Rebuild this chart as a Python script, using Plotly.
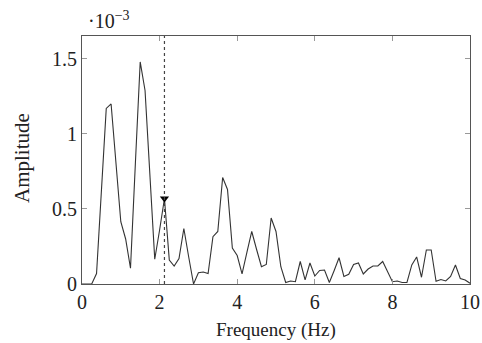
import plotly.graph_objects as go

# Frequency axis (Hz), spacing 0.125 Hz
freq = [i * 0.125 for i in range(81)]
# Amplitude values in units of 1e-3
amplitude = [
    0.0, 0.0, 0.0, 0.07, 0.62, 1.17, 1.20, 0.80, 0.415, 0.30,
    0.105, 0.80, 1.48, 1.29, 0.73, 0.165, 0.36, 0.57, 0.16, 0.12,
    0.17, 0.37, 0.18, 0.0, 0.075, 0.08, 0.07, 0.315, 0.35, 0.71,
    0.63, 0.24, 0.19, 0.067, 0.21, 0.35, 0.23, 0.115, 0.13, 0.44,
    0.35, 0.115, 0.01, 0.02, 0.015, 0.15, 0.027, 0.14, 0.053, 0.09,
    0.093, 0.01, 0.09, 0.175, 0.05, 0.065, 0.13, 0.14, 0.067, 0.10,
    0.12, 0.12, 0.15, 0.08, 0.015, 0.02, 0.01, 0.01, 0.127, 0.18,
    0.045, 0.227, 0.227, 0.018, 0.03, 0.02, 0.05, 0.127, 0.037, 0.027,
    0.005,
]
peak_freq = [2.125]
peak_amp = [0.57]

x_ticks = [0, 2, 4, 6, 8, 10]
x_ticklabels = ["0", "2", "4", "6", "8", "10"]
y_ticks = [0, 0.5, 1, 1.5]
y_ticklabels = ["0", "0.5", "1", "1.5"]

font_family = "Liberation Serif"
frame = "#555555"

fig = go.Figure()
fig.add_trace(go.Scatter(x=freq, y=amplitude, mode="lines",
                         line=dict(color="#333333", width=1.1),
                         showlegend=False, hoverinfo="skip"))
fig.add_trace(go.Scatter(x=peak_freq, y=peak_amp, mode="markers",
                         marker=dict(symbol="triangle-down", size=8, color="black"),
                         showlegend=False))
fig.add_shape(type="line", x0=peak_freq[0], x1=peak_freq[0], y0=0, y1=1,
              xref="x", yref="paper",
              line=dict(color="#444444", width=1.2, dash="dot"))

fig.update_layout(
    width=482, height=343,
    margin=dict(l=82, r=12, t=36, b=59),
    paper_bgcolor="white", plot_bgcolor="white",
    font=dict(family=font_family, size=19, color="#222222"),
    xaxis=dict(range=[0, 10], tickvals=x_ticks, ticktext=x_ticklabels,
               ticks="inside", ticklen=5, tickcolor="#999999",
               showline=True, linecolor=frame, linewidth=1, mirror="ticks",
               showgrid=False, zeroline=False, automargin=False,
               tickfont=dict(family=font_family, size=20)),
    yaxis=dict(range=[0, 1.653], tickvals=y_ticks, ticktext=y_ticklabels,
               ticks="inside", ticklen=5, tickcolor="#999999",
               showline=True, linecolor=frame, linewidth=1, mirror="ticks",
               showgrid=False, zeroline=False, automargin=False,
               tickfont=dict(family=font_family, size=20)),
)
fig.add_annotation(text="Frequency (Hz)", xref="paper", yref="paper",
                   x=0.5, y=0, yshift=-46, xanchor="center", yanchor="middle",
                   showarrow=False, font=dict(family=font_family, size=19))
fig.add_annotation(text="Amplitude", xref="paper", yref="paper",
                   x=0, xshift=-60, y=0.5, yshift=2, xanchor="center", yanchor="middle",
                   textangle=-90, showarrow=False,
                   font=dict(family=font_family, size=21))
fig.add_annotation(text="·10<sup>−3</sup>", xref="paper", yref="paper",
                   x=0.0, y=1.0, xshift=4, xanchor="left", yanchor="bottom", yshift=2,
                   showarrow=False, font=dict(family=font_family, size=20))

fig.write_html("out.html", config={"displayModeBar": False},
               post_script="document.body.style.margin='0';document.body.style.overflow='hidden';")
